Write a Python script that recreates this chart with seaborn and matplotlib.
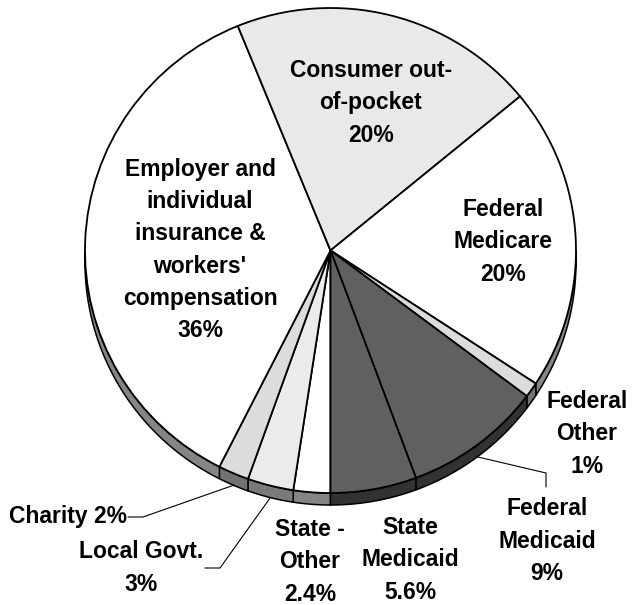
import numpy as np
import matplotlib
matplotlib.use("Agg")
import matplotlib.pyplot as plt
from matplotlib.patches import Polygon
import seaborn as sns

# ---- data (clockwise from the bottom of the pie) ----
labels = ["State -\nOther\n2.4%", "Local Govt.\n3%", "Charity 2%",
          "Employer and\nindividual\ninsurance &\nworkers'\ncompensation\n36%",
          "Consumer out-\nof-pocket\n20%", "Federal\nMedicare\n20%",
          "Federal\nOther\n1%", "Federal\nMedicaid\n9%", "State\nMedicaid\n5.6%"]
values = [2.4, 3, 2, 36, 20, 20, 1, 9, 5.6]
top_colors = ["#ffffff", "#ebebeb", "#dcdcdc", "#ffffff", "#e9e9e9",
              "#ffffff", "#dcdcdc", "#606060", "#606060"]

# ---- layout (pixel positions of label centres, image coords) ----
label_px = [(310, 562), (141, 568), (68, 517), (200, 250), (371, 103),
            (503, 242), (587, 434), (547, 541), (410, 560)]
leader_idx = {1: [(205, 568), (220, 568)], 2: [(128, 517), (143, 517)],
              7: [(546, 487), (546, 473)]}

W, H = 634, 605
CX, CY = 330.5, 250.5
RX, RY = 245.5, 242.5
DEPTH = 12 / RY


def to_data(px, py):
    return (px - CX) / RX, (CY - py) / RY


def darker(c, f=0.52):
    rgb = np.array(matplotlib.colors.to_rgb(c))
    return tuple(rgb * f)


sns.set_theme(style="white")
plt.rcParams["font.family"] = ["Liberation Sans", "DejaVu Sans"]

fig = plt.figure(figsize=(W / 100, H / 100), dpi=100)
ax = fig.add_axes([0, 0, 1, 1])

wedges, _ = ax.pie(values, colors=top_colors, startangle=270, counterclock=False,
                   radius=1, center=(0, 0),
                   wedgeprops=dict(edgecolor="black", linewidth=1.3, zorder=3))

# ---- side (depth) of the pie for the lower half ----
for w, col in zip(wedges, top_colors):
    t1, t2 = w.theta1, w.theta2
    for lo_b, hi_b in [(-180, 0), (180, 360)]:
        lo, hi = max(t1, lo_b), min(t2, hi_b)
        if hi <= lo:
            continue
        a = np.radians(np.linspace(lo, hi, 60))
        top = np.column_stack([np.cos(a), np.sin(a)])
        bot = np.column_stack([np.cos(a), np.sin(a) - DEPTH])[::-1]
        poly = Polygon(np.vstack([top, bot]), closed=True, facecolor=darker(col),
                       edgecolor="black", linewidth=1.1, zorder=2)
        ax.add_patch(poly)

# ---- labels ----
for i, (lab, (px, py)) in enumerate(zip(labels, label_px)):
    x, y = to_data(px, py)
    ax.text(x, y, lab, ha="center", va="center", multialignment="center",
            fontsize=16.5, fontweight="bold", color="black", linespacing=1.52,
            zorder=5)

# ---- leader lines ----
for i, pts in leader_idx.items():
    w = wedges[i]
    mid = np.radians((w.theta1 + w.theta2) / 2)
    end = (np.cos(mid), np.sin(mid) - DEPTH)
    xs = [to_data(*p)[0] for p in pts] + [end[0]]
    ys = [to_data(*p)[1] for p in pts] + [end[1]]
    ax.plot(xs, ys, color="black", linewidth=0.8, zorder=4)

ax.set_aspect("auto")
ax.set_xlim(-CX / RX, (W - CX) / RX)
ax.set_ylim(-(H - CY) / RY, CY / RY)
ax.axis("off")

fig.savefig("out.png", dpi=100, facecolor="white")
